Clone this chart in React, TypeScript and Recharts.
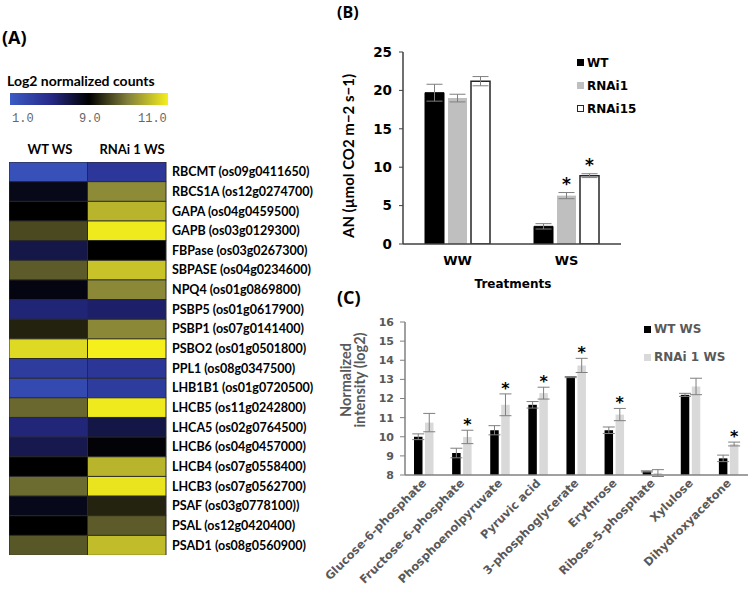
import { BarChart, Bar, XAxis, YAxis, Cell, ErrorBar, LabelList, Legend } from "recharts";

// (A) heatmap: log2 normalized counts
const GENES = [
  "RBCMT (os09g0411650)", "RBCS1A (os12g0274700)", "GAPA (os04g0459500)", "GAPB (os03g0129300)",
  "FBPase (os03g0267300)", "SBPASE (os04g0234600)", "NPQ4 (os01g0869800)", "PSBP5 (os01g0617900)",
  "PSBP1 (os07g0141400)", "PSBO2 (os01g0501800)", "PPL1 (os08g0347500)", "LHB1B1 (os01g0720500)",
  "LHCB5 (os11g0242800)", "LHCA5 (os02g0764500)", "LHCB6 (os04g0457000)", "LHCB4 (os07g0558400)",
  "LHCB3 (os07g0562700)", "PSAF (os03g0778100))", "PSAL (os12g0420400)", "PSAD1 (os08g0560900)",
];
const WT_WS_LOG2 = [1.8, 8.3, 9.0, 9.56, 6.9, 9.7, 8.55, 5.6, 9.26, 10.8, 3.6, 2.4, 9.8, 5.5, 6.75, 9.0, 9.82, 8.25, 9.0, 9.67];
const RNAI_WS_LOG2 = [4.0, 10.08, 10.46, 10.95, 9.0, 10.6, 10.06, 6.0, 10.06, 11.0, 4.1, 3.6, 10.95, 7.0, 8.8, 10.46, 10.9, 9.27, 9.7, 10.54];

// (B) net assimilation
const TREATMENTS = ["WW", "WS"];
const AN_WT = [19.7, 2.3];
const AN_WT_ERR = [1.1, 0.35];
const AN_RNAI1 = [19.0, 6.3];
const AN_RNAI1_ERR = [0.5, 0.4];
const AN_RNAI15 = [21.2, 8.9];
const AN_RNAI15_ERR = [0.6, 0.25];
const AN_SIG_RNAI1 = [false, true];
const AN_SIG_RNAI15 = [false, true];
const AN_TICKS = [0, 5, 10, 15, 20, 25];

// (C) metabolites
const METABOLITES = [
  "Glucose-6-phosphate", "Fructose-6-phosphate", "Phosphoenolpyruvate", "Pyruvic acid",
  "3-phosphoglycerate", "Erythrose", "Ribose-5-phosphate", "Xylulose", "Dihydroxyacetone",
];
const MET_WT = [10.0, 9.15, 10.34, 11.67, 13.12, 10.34, 8.19, 12.19, 8.87];
const MET_WT_ERR = [0.15, 0.25, 0.24, 0.17, 0.03, 0.17, 0.03, 0.08, 0.17];
const MET_RNAI = [10.74, 9.99, 11.67, 12.28, 13.73, 11.16, 8.1, 12.63, 9.62];
const MET_RNAI_ERR = [0.48, 0.35, 0.57, 0.31, 0.37, 0.32, 0.18, 0.43, 0.1];
const MET_SIG = [false, true, true, true, true, true, false, false, true];
const MET_TICKS = [8, 9, 10, 11, 12, 13, 14, 15, 16];

const CAL = 'Lato, "Open Sans", sans-serif';
const VER = '"DejaVu Sans", Verdana, sans-serif';
const GREY = "#595959";

// colour scale of the heatmap: 1.0 -> blue, 9.0 -> black, 11.0 -> yellow
const HEAT_STOPS: [number, string][] = [
  [1, "#3b5bc4"], [5, "#272b8a"], [9, "#000000"], [10, "#84823a"], [11, "#f5ef1c"],
];
const hex = (c: string) => [1, 3, 5].map((i) => parseInt(c.slice(i, i + 2), 16));
function heatColor(v: number) {
  const x = Math.max(1, Math.min(11, v));
  for (let i = 0; i < HEAT_STOPS.length - 1; i++) {
    const [v0, c0] = HEAT_STOPS[i];
    const [v1, c1] = HEAT_STOPS[i + 1];
    if (x <= v1) {
      const t = (x - v0) / (v1 - v0);
      const a = hex(c0), b = hex(c1);
      return `rgb(${a.map((n, k) => Math.round(n + (b[k] - n) * t)).join(",")})`;
    }
  }
  return HEAT_STOPS[HEAT_STOPS.length - 1][1];
}
const barPos = (v: number) => (v <= 9 ? ((v - 1) / 8) * 0.5 : 0.5 + ((v - 9) / 2) * 0.5);

const heatData = GENES.map((g, i) => ({ gene: g, wt: WT_WS_LOG2[i], rnai: RNAI_WS_LOG2[i] }));
const anData = TREATMENTS.map((t, i) => ({
  treatment: t,
  wt: AN_WT[i], wtErr: AN_WT_ERR[i],
  rnai1: AN_RNAI1[i], rnai1Err: AN_RNAI1_ERR[i],
  rnai15: AN_RNAI15[i], rnai15Err: AN_RNAI15_ERR[i],
}));
const metData = METABOLITES.map((m, i) => ({
  name: m, wt: MET_WT[i], wtErr: MET_WT_ERR[i], rnai: MET_RNAI[i], rnaiErr: MET_RNAI_ERR[i],
}));

const B_SERIES = [
  { key: "wt", name: "WT", fill: "#000000", stroke: "#000000" },
  { key: "rnai1", name: "RNAi1", fill: "#bfbfbf", stroke: "#bfbfbf" },
  { key: "rnai15", name: "RNAi15", fill: "#ffffff", stroke: "#262626" },
];
const C_SERIES = [
  { key: "wt", name: "WT WS", fill: "#000000" },
  { key: "rnai", name: "RNAi 1 WS", fill: "#d9d9d9" },
];

// asterisk drawn above the error bar of a significant bar
const star = (vals: number[], errs: number[], sig: boolean[], base: number, lift: number, size: number) =>
  (p: any) => {
    const i = p.index;
    if (i == null || !sig[i]) return null;
    const vb = p.viewBox || p;
    const h = Math.abs(vb.height);
    const top = Math.min(vb.y, vb.y + vb.height);
    const errPx = (errs[i] * h) / (vals[i] - base);
    return (
      <text key={`s${i}`} x={vb.x + vb.width / 2} y={top - errPx - lift} textAnchor="middle"
        fontFamily={VER} fontWeight={700} fontSize={size} fill="#000">*</text>
    );
  };

const GeneTick = ({ x, y, payload }: any) => (
  <text x={x} y={y} dy="0.35em" textAnchor="start" fontFamily={CAL} fontWeight={700} fontSize={12.5} fill="#000">
    {payload.value}
  </text>
);

const MetTick = ({ x, y, payload }: any) => (
  <g transform={`translate(${x},${y})`}>
    <text transform="rotate(-45)" textAnchor="end" dy="0.35em" fontFamily={VER} fontWeight={700} fontSize={11.5} fill={GREY}>
      {payload.value}
    </text>
  </g>
);

export default function App() {
  return (
    <div style={{ position: "absolute", left: 0, top: 0, width: 750, height: 594, background: "#fff", overflow: "hidden" }}>
      {/* (A) heatmap */}
      <div style={{ position: "absolute", left: 9, top: 162 }}>
        <BarChart layout="vertical" width={322} height={393} data={heatData}
          margin={{ top: 0, right: 0, bottom: 0, left: 0 }} barCategoryGap={0}>
          <XAxis type="number" domain={[0, 2]} hide />
          <YAxis type="category" dataKey="gene" orientation="right" width={165} interval={0}
            axisLine={false} tickLine={false} tickSize={0} tickMargin={6} tick={<GeneTick />} />
          <Bar dataKey={() => 1} stackId="h" stroke="#2a2a2a" strokeWidth={1} isAnimationActive={false}>
            {heatData.map((d, i) => <Cell key={i} fill={heatColor(d.wt)} />)}
          </Bar>
          <Bar dataKey={() => 1} stackId="h" stroke="#2a2a2a" strokeWidth={1} isAnimationActive={false}>
            {heatData.map((d, i) => <Cell key={i} fill={heatColor(d.rnai)} />)}
          </Bar>
        </BarChart>
      </div>

      {/* (B) AN bars */}
      <div style={{ position: "absolute", left: 340, top: 0 }}>
        <BarChart width={300} height={300} data={anData} margin={{ top: 52, right: 19, bottom: 26, left: 20 }}
          barSize={19} barGap={4}>
          <XAxis dataKey="treatment" height={30} tickLine={false} tickSize={0} tickMargin={12}
            axisLine={{ stroke: "#404040", strokeWidth: 1.5 }}
            tick={{ fontFamily: VER, fontWeight: 700, fontSize: 13, fill: "#000" }} />
          <YAxis width={43} domain={[0, 25]} ticks={AN_TICKS} allowDataOverflow
            axisLine={{ stroke: "#404040", strokeWidth: 1.5 }} tickLine={{ stroke: "#404040" }} tickSize={4} tickMargin={7}
            tick={{ fontFamily: VER, fontWeight: 700, fontSize: 13.5, fill: "#000" }} />
          <Legend layout="vertical" align="center" verticalAlign="middle"
            wrapperStyle={{ left: 237, top: 51, width: 80 }}
            content={() => (
              <div>
                {B_SERIES.map((s) => (
                  <div key={s.key} style={{ display: "flex", alignItems: "center", height: 23 }}>
                    <span style={{ width: 7, height: 7, background: s.fill, border: `1px solid ${s.stroke}`, boxSizing: "border-box", marginRight: 3 }} />
                    <span style={{ fontFamily: VER, fontWeight: 700, fontSize: 12, color: "#000" }}>{s.name}</span>
                  </div>
                ))}
              </div>
            )} />
          <Bar dataKey="wt" name="WT" fill="#000" stroke="#000" isAnimationActive={false}>
            <ErrorBar dataKey="wtErr" width={8} stroke="#7f7f7f" strokeWidth={1} />
          </Bar>
          <Bar dataKey="rnai1" name="RNAi1" fill="#bfbfbf" isAnimationActive={false}>
            <ErrorBar dataKey="rnai1Err" width={8} stroke="#7f7f7f" strokeWidth={1} />
            <LabelList dataKey="rnai1" content={star(AN_RNAI1, AN_RNAI1_ERR, AN_SIG_RNAI1, 0, 3, 17)} />
          </Bar>
          <Bar dataKey="rnai15" name="RNAi15" fill="#fff" stroke="#262626" strokeWidth={1.5} isAnimationActive={false}>
            <ErrorBar dataKey="rnai15Err" width={8} stroke="#7f7f7f" strokeWidth={1} />
            <LabelList dataKey="rnai15" content={star(AN_RNAI15, AN_RNAI15_ERR, AN_SIG_RNAI15, 0, 3, 17)} />
          </Bar>
        </BarChart>
      </div>

      {/* (C) metabolites */}
      <div style={{ position: "absolute", left: 300, top: 300 }}>
        <BarChart width={450} height={294} data={metData} margin={{ top: 22, right: 2, bottom: 0, left: 62 }}
          barSize={8.5} barGap={2.5}>
          <XAxis dataKey="name" height={119} interval={0} tickLine={false} tickSize={0} tickMargin={6}
            axisLine={{ stroke: "#808080", strokeWidth: 1.5 }} tick={<MetTick />} />
          <YAxis width={43} domain={[8, 16]} ticks={MET_TICKS} allowDataOverflow interval={0}
            axisLine={{ stroke: "#808080", strokeWidth: 1.5 }} tickLine={{ stroke: "#808080" }} tickSize={5} tickMargin={6}
            tick={{ fontFamily: VER, fontWeight: 700, fontSize: 11, fill: GREY }} />
          <Legend layout="vertical" align="center" verticalAlign="middle"
            wrapperStyle={{ left: 344, top: 15, width: 110 }}
            content={() => (
              <div>
                {C_SERIES.map((s) => (
                  <div key={s.key} style={{ display: "flex", alignItems: "center", height: 28 }}>
                    <span style={{ width: 7, height: 7, background: s.fill, marginRight: 3 }} />
                    <span style={{ fontFamily: VER, fontWeight: 700, fontSize: 12, color: GREY }}>{s.name}</span>
                  </div>
                ))}
              </div>
            )} />
          <Bar dataKey="wt" name="WT WS" fill="#000" isAnimationActive={false}>
            <ErrorBar dataKey="wtErr" width={6} stroke="#7f7f7f" strokeWidth={1} />
          </Bar>
          <Bar dataKey="rnai" name="RNAi 1 WS" fill="#d9d9d9" isAnimationActive={false}>
            <ErrorBar dataKey="rnaiErr" width={6} stroke="#7f7f7f" strokeWidth={1} />
            <LabelList dataKey="rnai" content={star(MET_RNAI, MET_RNAI_ERR, MET_SIG, 8, 0, 16)} />
          </Bar>
        </BarChart>
      </div>

      {/* titles, colour key and axis titles */}
      <svg width={750} height={594} style={{ position: "absolute", left: 0, top: 0, pointerEvents: "none" }}>
        <defs>
          <linearGradient id="heatKey" x1="0" x2="1" y1="0" y2="0">
            {HEAT_STOPS.map(([v, c]) => <stop key={v} offset={barPos(v)} stopColor={c} />)}
          </linearGradient>
        </defs>
        <text x={2} y={37} dominantBaseline="central" fontFamily='"Open Sans", sans-serif' fontWeight={700} fontSize={18}>(A)</text>
        <text x={337} y={12} dominantBaseline="central" fontFamily='"Open Sans", sans-serif' fontWeight={700} fontSize={16}>(B)</text>
        <text x={337} y={297} dominantBaseline="central" fontFamily='"Open Sans", sans-serif' fontWeight={700} fontSize={18}>(C)</text>

        <text x={7} y={80} dominantBaseline="central" fontFamily={CAL} fontWeight={700} fontSize={14}>Log2 normalized counts</text>
        <rect x={10} y={93} width={158} height={12} fill="url(#heatKey)" />
        <text x={12} y={119} dominantBaseline="central" fontFamily='"Liberation Mono", monospace' fontSize={12} fill="#666">1.0</text>
        <text x={79} y={119} dominantBaseline="central" fontFamily='"Liberation Mono", monospace' fontSize={12} fill="#666">9.0</text>
        <text x={138} y={119} dominantBaseline="central" fontFamily='"Liberation Mono", monospace' fontSize={12} fill="#666">11.0</text>
        <text x={50} y={149} textAnchor="middle" dominantBaseline="central" fontFamily={CAL} fontWeight={700} fontSize={13}>WT WS</text>
        <text x={132} y={149} textAnchor="middle" dominantBaseline="central" fontFamily={CAL} fontWeight={700} fontSize={13}>RNAi 1 WS</text>

        <text transform="translate(348,156) rotate(-90)" textAnchor="middle" dominantBaseline="central"
          fontFamily={CAL} fontWeight={700} fontSize={15}>AN (µmol CO2 m−2 s−1)</text>
        <text x={513} y={284} textAnchor="middle" dominantBaseline="central" fontFamily={VER} fontWeight={700} fontSize={12}>Treatments</text>

        <text transform="translate(345,380) rotate(-90)" textAnchor="middle" dominantBaseline="central"
          fontFamily={CAL} fontWeight={700} fontSize={14.5} fill={GREY}>Normalized</text>
        <text transform="translate(359,380) rotate(-90)" textAnchor="middle" dominantBaseline="central"
          fontFamily={CAL} fontWeight={700} fontSize={14.5} fill={GREY}>intensity (log2)</text>
      </svg>
    </div>
  );
}
